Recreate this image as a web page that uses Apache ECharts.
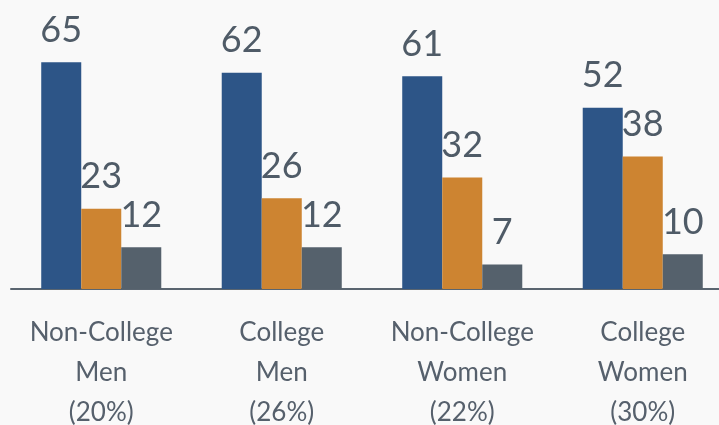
<!DOCTYPE html>
<html><head><meta charset="utf-8">
<script src="https://cdn.jsdelivr.net/npm/echarts@6/dist/echarts.min.js"></script>
<style>html,body{margin:0;padding:0;background:#f9f9f9;}#c{width:719px;height:425px;}</style>
</head><body><div id="c"></div>
<script>
const categories = ['Non-College\nMen\n(20%)', 'College\nMen\n(26%)', 'Non-College\nWomen\n(22%)', 'College\nWomen\n(30%)'];
const seriesA = [65, 62, 61, 52];
const seriesB = [23, 26, 32, 38];
const seriesC = [12, 12, 7, 10];
const colors = ['#2d5587', '#cd8431', '#55616c'];

const chart = echarts.init(document.getElementById('c'));
const mk = (data, color) => ({
  type: 'bar', data: data, barGap: '0%', barCategoryGap: '33.5%',
  itemStyle: { color: color },
  label: { show: true, position: 'top', distance: 14, color: '#4f5b67', fontSize: 36, fontFamily: 'Lato' },
  silent: true
});
chart.setOption({
  backgroundColor: '#f9f9f9',
  animation: false,
  grid: { left: 11, width: 722, top: 10, bottom: 136, containLabel: false, outerBoundsMode: 'none' },
  xAxis: {
    type: 'category', data: categories,
    axisLine: { lineStyle: { color: '#5a6570', width: 2 } },
    axisTick: { show: false },
    axisLabel: { interval: 0, color: '#56606c', fontSize: 26, fontFamily: 'Lato', lineHeight: 40, margin: 24 }
  },
  yAxis: { type: 'value', min: 0, max: 80, show: false, splitLine: { show: false } },
  series: [mk(seriesA, colors[0]), mk(seriesB, colors[1]), mk(seriesC, colors[2])]
});
</script></body></html>
